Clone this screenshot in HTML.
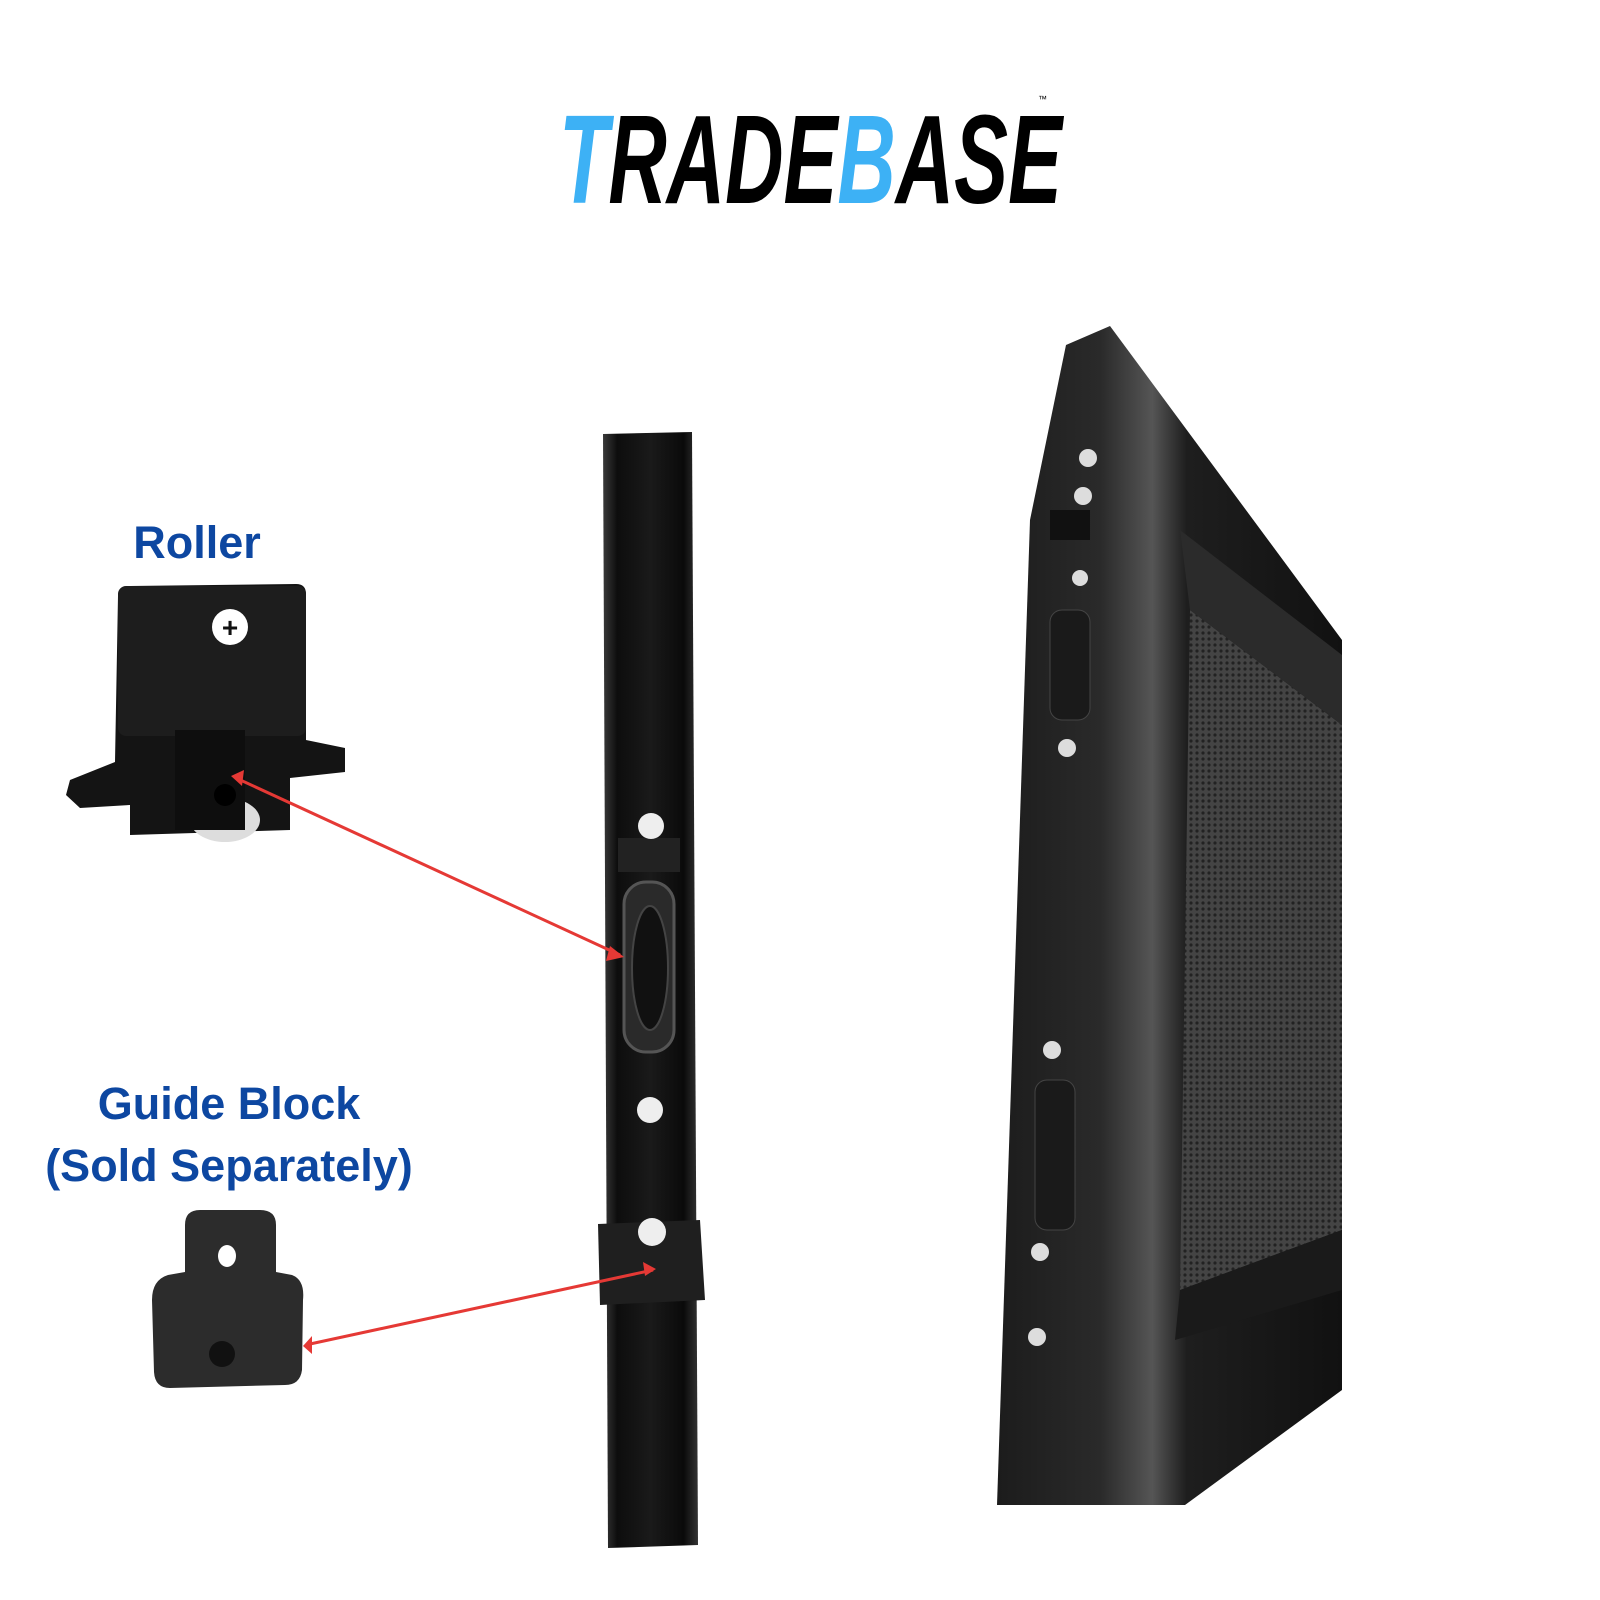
<!DOCTYPE html>
<html><head><meta charset="utf-8"><style>
html,body{margin:0;padding:0;background:#fff}
svg{display:block}
</style></head><body>
<svg width="1600" height="1600" viewBox="0 0 1600 1600" xmlns="http://www.w3.org/2000/svg">
<defs>
<linearGradient id="rail" x1="0" x2="1">
<stop offset="0" stop-color="#3a3a3a"/><stop offset="0.15" stop-color="#0d0d0d"/><stop offset="0.5" stop-color="#1a1a1a"/><stop offset="0.85" stop-color="#0a0a0a"/><stop offset="1" stop-color="#333"/>
</linearGradient>
<linearGradient id="door" x1="0" x2="1">
<stop offset="0" stop-color="#1c1c1c"/><stop offset="0.3" stop-color="#2a2a2a"/><stop offset="0.45" stop-color="#555"/><stop offset="0.55" stop-color="#1e1e1e"/><stop offset="1" stop-color="#111"/>
</linearGradient>
<pattern id="mesh" width="6" height="6" patternUnits="userSpaceOnUse">
<rect width="6" height="6" fill="#444"/><circle cx="3" cy="3" r="1.6" fill="#222"/>
</pattern>
</defs>
<!-- logo -->
<text x="559" y="203" textLength="503" lengthAdjust="spacingAndGlyphs" font-family="Liberation Sans Narrow, Liberation Sans, sans-serif" font-weight="bold" font-style="italic" font-size="126" fill="#000"><tspan fill="#3db1f5">T</tspan>RADE<tspan fill="#3db1f5">B</tspan>ASE</text>
<text x="1038" y="102" font-family="Liberation Sans, sans-serif" font-size="9" fill="#000">™</text>

<!-- labels -->
<g font-family="Liberation Sans, sans-serif" font-weight="bold" fill="#0d47a1" font-size="45" text-anchor="middle">
<text x="197" y="558">Roller</text>
<text x="229" y="1119">Guide Block</text>
<text x="229" y="1181">(Sold Separately)</text>
</g>

<!-- roller -->
<g>
<path d="M118 596 Q118 586 130 586 L296 584 Q306 584 306 594 L306 740 L345 748 L345 772 L290 778 L290 830 L130 835 L130 805 L80 808 L66 795 L70 780 L115 762 Z" fill="#141414"/>
<rect x="118" y="586" width="188" height="150" rx="8" fill="#1d1d1d"/>
<circle cx="230" cy="627" r="18" fill="#fff"/>
<text x="230" y="637" text-anchor="middle" font-family="Liberation Sans, sans-serif" font-size="28" font-weight="bold" fill="#111">+</text>
<ellipse cx="225" cy="820" rx="35" ry="22" fill="#ddd"/>
<rect x="175" y="730" width="70" height="100" fill="#0e0e0e"/>
<circle cx="225" cy="795" r="11" fill="#000"/>
</g>

<!-- guide block -->
<g>
<path d="M185 1225 Q185 1210 200 1210 L260 1210 Q276 1210 276 1225 L276 1272 L292 1275 Q305 1280 303 1300 L302 1370 Q300 1385 285 1385 L170 1388 Q155 1388 154 1372 L152 1300 Q152 1280 168 1275 L185 1272 Z" fill="#2c2c2c"/>
<ellipse cx="227" cy="1256" rx="9" ry="11" fill="#fff"/>
<circle cx="222" cy="1354" r="13" fill="#111"/>
</g>

<!-- rail -->
<path d="M603 434 L692 432 L698 1545 L608 1548 Z" fill="url(#rail)"/>
<rect x="618" y="838" width="62" height="34" fill="#222"/>
<circle cx="651" cy="826" r="13" fill="#eee"/>
<rect x="624" y="882" width="50" height="170" rx="22" fill="#2a2a2a" stroke="#555" stroke-width="3"/>
<ellipse cx="650" cy="968" rx="18" ry="62" fill="#111" stroke="#444" stroke-width="2"/>
<circle cx="650" cy="1110" r="13" fill="#eee"/>
<path d="M598 1224 L700 1220 L705 1300 L600 1305 Z" fill="#1f1f1f"/>
<circle cx="652" cy="1232" r="14" fill="#eee"/>

<!-- arrows -->
<g stroke="#e53935" stroke-width="3" fill="#e53935">
<line x1="236" y1="778" x2="620" y2="955"/>
<line x1="310" y1="1344" x2="653" y2="1270"/>
</g>
<polygon points="231,776 244,770 242,786" fill="#e53935"/>
<polygon points="624,957 610,946 606,961" fill="#e53935"/>
<polygon points="303,1346 312,1336 312,1354" fill="#e53935"/>
<polygon points="656,1269 643,1262 645,1276" fill="#e53935"/>

<!-- door -->
<path d="M1066 345 L1110 326 L1342 640 L1342 1390 L1185 1505 L997 1505 L1030 520 Z" fill="url(#door)"/>
<path d="M1190 610 L1342 725 L1342 1230 L1180 1290 Z" fill="url(#mesh)"/>
<path d="M1180 530 L1342 655 L1342 725 L1190 610 Z" fill="#2b2b2b"/>
<path d="M1180 1290 L1342 1230 L1342 1290 L1175 1340 Z" fill="#1a1a1a"/>
<g fill="#ddd">
<circle cx="1088" cy="458" r="9"/><circle cx="1083" cy="496" r="9"/><circle cx="1080" cy="578" r="8"/>
<circle cx="1067" cy="748" r="9"/><circle cx="1052" cy="1050" r="9"/><circle cx="1040" cy="1252" r="9"/><circle cx="1037" cy="1337" r="9"/>
</g>
<rect x="1050" y="510" width="40" height="30" fill="#111"/>
<rect x="1050" y="610" width="40" height="110" rx="12" fill="#1a1a1a" stroke="#444"/>
<rect x="1035" y="1080" width="40" height="150" rx="12" fill="#1a1a1a" stroke="#444"/>
</svg>
</body></html>
